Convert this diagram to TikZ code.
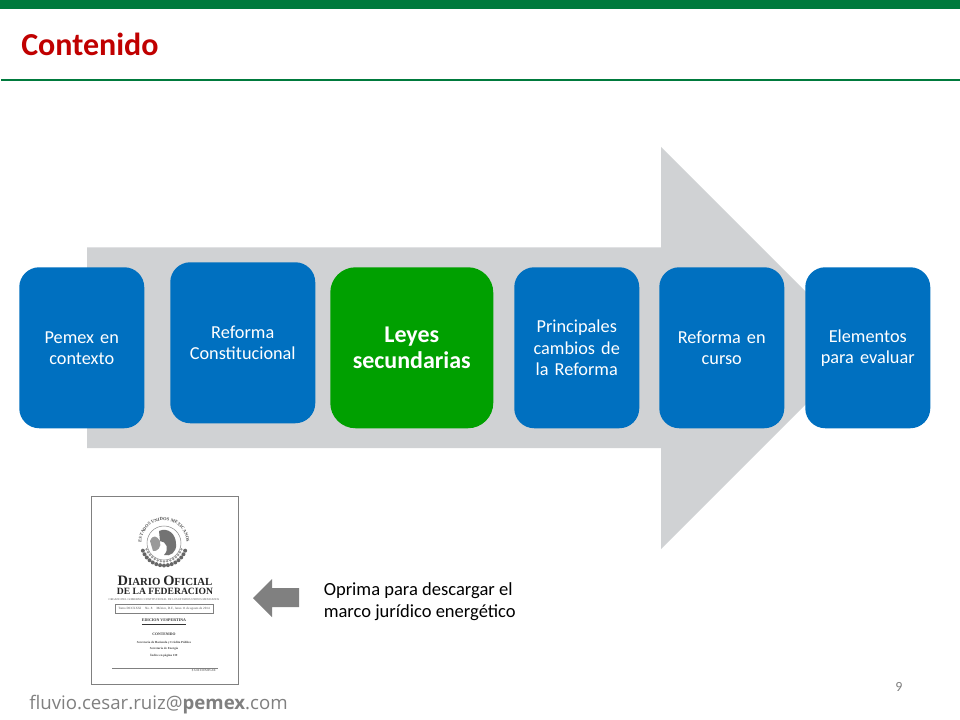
\documentclass[tikz,border=0pt]{standalone}
\usepackage{fontspec}
\usetikzlibrary{decorations.text}
\setmainfont{Carlito}
\newfontfamily\docserif{Liberation Serif}
\newfontfamily\footfont{Open Sans}
\definecolor{pemexgreen}{HTML}{007A3D}
\definecolor{boxblue}{HTML}{0070C0}
\definecolor{boxgreen}{HTML}{00A000}
\definecolor{arrowgray}{HTML}{D0D2D4}
\definecolor{titlered}{HTML}{C00000}
\definecolor{midgray}{HTML}{808080}
\tikzset{
  x=0.75pt,y=-0.75pt,
  stagebox/.style={draw=none,fill=boxblue,rounded corners=15pt,text=white,align=center,anchor=north west,font=\fontsize{13.7}{15.8}\selectfont,inner sep=0pt}
}
\newcommand{\stagenode}[7]{%
  \node[stagebox,fill=#7,minimum width=#4*0.75pt,minimum height=#5*0.75pt,text width=#4*0.75pt-6pt] (#1) at (#2,#3) {#6};}
\begin{document}
\begin{tikzpicture}
\useasboundingbox (0,0) rectangle (960,720);
\fill[white] (0,0) rectangle (960,720);
\fill[pemexgreen] (0,0) rectangle (960,9);
\fill[pemexgreen] (1,78.7) rectangle (960,81.5);
\node[anchor=west,inner sep=0pt,text=titlered,font=\fontsize{24}{26}\selectfont\bfseries] (title) at (21,44) {Contenido};
% big arrow
\fill[arrowgray] (87,247.5) -- (661,247.5) -- (661,147) -- (862,348) -- (661,549) -- (661,448) -- (87,448) -- cycle;
% stages
\stagenode{s1}{19}{267}{125}{161}{Pemex en\\contexto}{boxblue}
\stagenode{s2}{170}{262}{145}{161}{Reforma\\Constitucional}{boxblue}
\node[stagebox,fill=boxgreen,rounded corners=19pt,minimum width=122.25pt,minimum height=120.75pt,text width=110pt,font=\fontsize{18}{19.5}\selectfont\bfseries] (s3) at (330,267) {Leyes\\secundarias};
\stagenode{s4}{514}{267}{125}{161}{Principales\\cambios de\\la Reforma}{boxblue}
\stagenode{s5}{659}{267}{125}{161}{Reforma en\\curso}{boxblue}
\stagenode{s6}{805}{267}{125}{161}{Elementos\\para evaluar}{boxblue}
% document thumbnail
\node[draw=midgray,line width=0.75pt,fill=white,anchor=north west,minimum width=110pt,minimum height=141.5pt,inner sep=0pt] (doc) at (91,495.5) {};
% emblem
\path[postaction={decorate,decoration={text along path,text align=center,text={|\docserif\bfseries\fontsize{3.4}{4}\selectfont\color{black!70}|ESTADOS UNIDOS MEXICANOS}}}]
  (142.8,550.7) arc[start angle=160,end angle=380,radius=22.5];
\foreach \a in {20,30,...,160}{
  \fill[black!60] ([shift={(\a:22.5)}]164,543) circle[radius=2];
  \fill[black!40] ([shift={(\a:18.5)}]164,543) circle[radius=1.3];
}
\draw[black!45,line width=0.4pt] (164,543) circle[radius=17];
\fill[black!55] (159,531) .. controls (168,527) and (176,534) .. (176,544) .. controls (177,552) and (170,557) .. (164,555) .. controls (170,549) and (166,541) .. (160,541) -- cycle;
\fill[black!40] (150,541) .. controls (153,534) and (157,536) .. (160,541) .. controls (162,547) and (157,552) .. (153,551) -- cycle;
\node[inner sep=0pt,font=\docserif\bfseries\fontsize{7}{8}\selectfont,text=black!85] (d1) at (165,580.5) {\fontsize{10.8}{11}\selectfont D\fontsize{8.1}{9}\selectfont IARIO \fontsize{10.8}{11}\selectfont O\fontsize{8.1}{9}\selectfont FICIAL};
\node[inner sep=0pt,font=\docserif\bfseries\fontsize{7.2}{9}\selectfont,text=black!85] (d2) at (165,591.5) {DE LA FEDERACION};
\draw[midgray,line width=0.4pt] (115,604) rectangle (213,613);
\node[inner sep=0pt,font=\docserif\fontsize{2.1}{3}\selectfont,text=black!70] (d3) at (164,600) {ORGANO DEL GOBIERNO CONSTITUCIONAL DE LOS ESTADOS UNIDOS MEXICANOS};
\node[inner sep=0pt,font=\docserif\fontsize{2.4}{3}\selectfont,text=black!70] (d4) at (164,608.5) {Tomo DCCXXXI \quad No. 8 \quad México, D.F., lunes 11 de agosto de 2014};
\node[inner sep=0pt,font=\docserif\bfseries\fontsize{3}{4}\selectfont,text=black!80] (d5) at (164,622) {\underline{EDICION VESPERTINA}};
\node[inner sep=0pt,font=\docserif\bfseries\fontsize{2.8}{4}\selectfont,text=black!80] (d6) at (164,634) {CONTENIDO};
\node[inner sep=0pt,font=\docserif\bfseries\fontsize{2.3}{4.8}\selectfont,text=black!75,align=center] (d7) at (164,649) {Secretaría de Hacienda y Crédito Público\\Secretaría de Energía\\Índice en página 139};
\draw[midgray,line width=0.4pt] (112,668) -- (218,668);
\node[inner sep=0pt,font=\docserif\fontsize{2.3}{3}\selectfont,text=black!70,anchor=east] (d8) at (216,671) {\$ 6.00 EJEMPLAR};
% small arrow
\fill[midgray] (299,588) -- (272,588) -- (272,579) -- (253,598) -- (272,617) -- (272,607) -- (299,607) -- cycle;
\node[anchor=north west,inner sep=0pt,align=left,text=black,font=\fontsize{13.9}{16.4}\selectfont] (note) at (323.5,582.5) {Oprima para descargar el\\marco jurídico energético};
\node[inner sep=0pt,text=midgray,font=\fontsize{10.5}{12}\selectfont] (page) at (899,687) {9};
\node[anchor=west,inner sep=0pt,text=midgray,font=\footfont\fontsize{14}{16}\selectfont] (mail) at (29,704.5) {fluvio.cesar.ruiz@\textbf{pemex}.com};
\end{tikzpicture}
\end{document}
